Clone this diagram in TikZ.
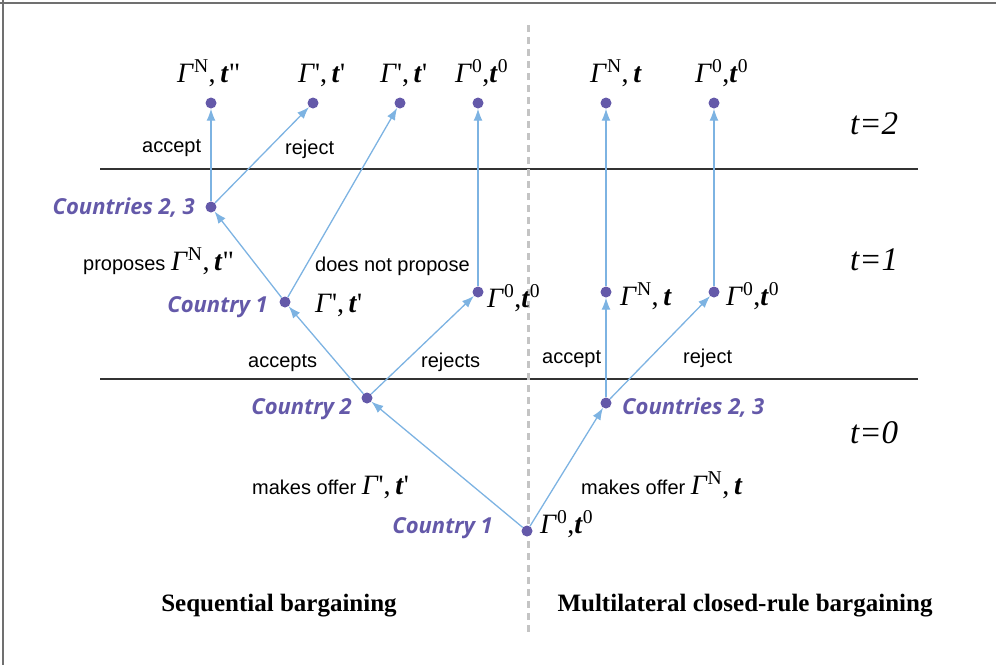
\documentclass[tikz,border=0pt]{standalone}
\usepackage{fontspec}
\setmainfont{Liberation Serif}
\setsansfont{Liberation Sans}
\newfontfamily\ctyfont{Open Sans}
\usetikzlibrary{arrows.meta,positioning}

\definecolor{nodepurple}{HTML}{6459A9}
\definecolor{edgeblue}{HTML}{7DB3E2}
\definecolor{sepgray}{HTML}{C4C4C4}
\definecolor{framegray}{HTML}{707070}

\newcommand{\Gm}{\textit{Γ}}
\newcommand{\tb}{\textbf{\textit{t}}}
\newcommand{\pr}{\textquotesingle}
\newcommand{\dq}{\textquotedbl}

\begin{document}
\begin{tikzpicture}[
x=1pt, y=-1pt,
>={Latex[length=12pt,width=9pt]},
dot/.style={circle, fill=nodepurple, inner sep=0pt, minimum size=11pt},
move/.style={->, draw=edgeblue, line width=1.3pt},
period/.style={font=\itshape\fontsize{33}{33}\selectfont, inner sep=0pt},
payoff/.style={font=\fontsize{28}{28}\selectfont, inner sep=0pt},
action/.style={font=\sffamily\fontsize{20}{22}\selectfont, inner sep=0pt},
player/.style={font=\ctyfont\bfseries\itshape\fontsize{22}{24}\selectfont, text=nodepurple, inner sep=0pt},
heading/.style={font=\bfseries\fontsize{25}{27}\selectfont, inner sep=0pt},
stage/.style={draw=black!80, line width=1.2pt}
]

\useasboundingbox (0,0) rectangle (996,665);

% =====================================================
% Frame and separators
% =====================================================

\draw[framegray, line width=2pt] (0,3) -- (996,3);
\draw[framegray, line width=2pt] (3,0) -- (3,665);

\draw[stage] (100,169) -- (918,169);
\draw[stage] (100,379) -- (918,379);

\draw[sepgray, line width=3pt, dash pattern=on 7pt off 5pt] (528,25) -- (528,632);

% =====================================================
% Decision nodes
% =====================================================

% Root (shared)
\node[dot] (r0) at (527,531) {};

% Sequential bargaining
\node[dot] (c2)  at (367,398) {};
\node[dot] (c1)  at (285,302) {};
\node[dot] (g1)  at (478,292) {};
\node[dot] (c23) at (211,207) {};
\node[dot] (ta)  at (211,103) {};
\node[dot] (tb)  at (313,103) {};
\node[dot] (tc)  at (400,103) {};
\node[dot] (td)  at (478,103) {};

% Multilateral closed-rule bargaining
\node[dot] (d23) at (606,403) {};
\node[dot] (dn)  at (606,292) {};
\node[dot] (d0)  at (714,292) {};
\node[dot] (ea)  at (606,103) {};
\node[dot] (eb)  at (714,103) {};

% =====================================================
% Moves
% =====================================================

\draw[move] (r0) -- (c2);
\draw[move] (c2) -- (c1);
\draw[move] (c2) -- (g1);
\draw[move] (c1) -- (c23);
\draw[move] (c1) -- (tc);
\draw[move] (g1) -- (td);
\draw[move] (c23) -- (ta);
\draw[move] (c23) -- (tb);

\draw[move] (r0) -- (d23);
\draw[move] (d23) -- (dn);
\draw[move] (d23) -- (d0);
\draw[move] (dn) -- (ea);
\draw[move] (d0) -- (eb);

% =====================================================
% Players
% =====================================================

\node[player, anchor=east] (plc23) at (195,208) {Countries 2, 3};
\node[player, anchor=east] (plc1)  at (268,307) {Country 1};
\node[player, anchor=east] (plc2)  at (352,409) {Country 2};
\node[player, anchor=east] (plr0)  at (493,528) {Country 1};
\node[player, anchor=west] (pld23) at (622,408) {Countries 2, 3};

% =====================================================
% Outcomes
% =====================================================

\node[payoff, anchor=base west] (lbta) at (177,82) {\Gm\textsuperscript{N},\,\tb\dq};
\node[payoff, anchor=base west] (lbtb) at (298,82) {\Gm\pr,\,\tb\pr};
\node[payoff, anchor=base west] (lbtc) at (380,82) {\Gm\pr,\,\tb\pr};
\node[payoff, anchor=base west] (lbtd) at (455,82) {\Gm\textsuperscript{0},\tb\textsuperscript{0}};
\node[payoff, anchor=base west] (lbea) at (590,82) {\Gm\textsuperscript{N},\,\tb};
\node[payoff, anchor=base west] (lbeb) at (695,82) {\Gm\textsuperscript{0},\tb\textsuperscript{0}};

\node[payoff, anchor=base west] (lbc1) at (315,312) {\Gm\pr,\,\tb\pr};
\node[payoff, anchor=base west] (lbg1) at (487,307) {\Gm\textsuperscript{0},\tb\textsuperscript{0}};
\node[payoff, anchor=base west] (lbdn) at (620,305) {\Gm\textsuperscript{N},\,\tb};
\node[payoff, anchor=base west] (lbd0) at (726,305) {\Gm\textsuperscript{0},\tb\textsuperscript{0}};
\node[payoff, anchor=base west] (lbr0) at (540,533) {\Gm\textsuperscript{0},\tb\textsuperscript{0}};

% =====================================================
% Actions
% =====================================================

\node[action, anchor=base west] (acc1) at (142,152) {accept};
\node[action, anchor=base west] (rej1) at (285,154) {reject};
\node[action, anchor=base west] (prop) at (83,270) {proposes \fontsize{28}{28}\selectfont\rmfamily\Gm\textsuperscript{N},\,\tb\dq};
\node[action, anchor=base west] (nprop) at (315,271) {does not propose};
\node[action, anchor=base west] (accs) at (248,367) {accepts};
\node[action, anchor=base west] (rejs) at (421,367) {rejects};
\node[action, anchor=base west] (acc2) at (542,363) {accept};
\node[action, anchor=base west] (rej2) at (683,363) {reject};
\node[action, anchor=base west] (offl) at (252,494) {makes offer \fontsize{28}{28}\selectfont\rmfamily\Gm\pr,\,\tb\pr};
\node[action, anchor=base west] (offr) at (581,494) {makes offer \fontsize{28}{28}\selectfont\rmfamily\Gm\textsuperscript{N},\,\tb};

% =====================================================
% Periods and headings
% =====================================================

\node[period, anchor=base west] (per2) at (850,134) {t=2};
\node[period, anchor=base west] (per1) at (850,270) {t=1};
\node[period, anchor=base west] (per0) at (850,443) {t=0};

\node[heading, anchor=base] (hseq) at (279,611) {Sequential bargaining};
\node[heading, anchor=base] (hmul) at (745,611) {Multilateral closed-rule bargaining};

\end{tikzpicture}
\end{document}
